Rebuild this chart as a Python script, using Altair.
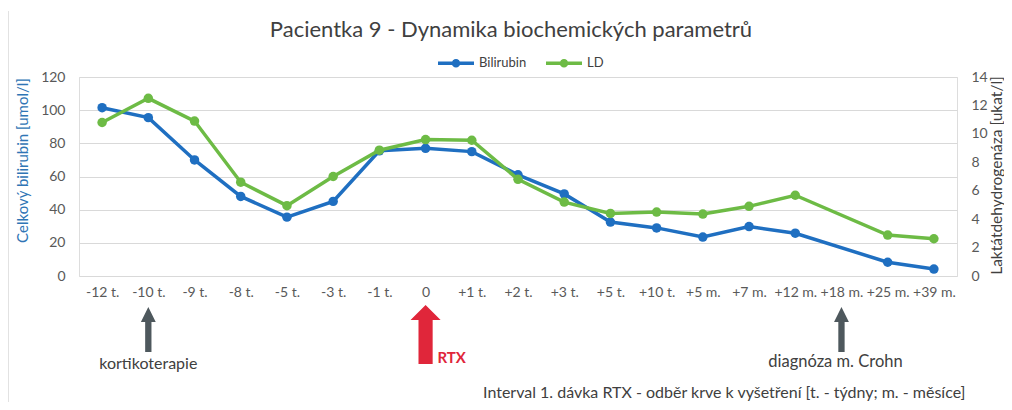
import altair as alt
import pandas as pd

categories = ["-12 t.", "-10 t.", "-9 t.", "-8 t.", "-5 t.", "-3 t.", "-1 t.", "0",
              "+1 t.", "+2 t.", "+3 t.", "+5 t.", "+10 t.", "+5 m.", "+7 m.",
              "+12 m.", "+18 m.", "+25 m.", "+39 m."]
bilirubin = [101.5, 95.5, 70, 48, 35.5, 45, 75.5, 77, 75, 61, 49.5, 32.5, 29, 23.5,
             29.8, 25.8, None, 8.3, 4.2]
ld = [10.8, 12.5, 10.9, 6.6, 4.95, 7.0, 8.85, 9.6, 9.55, 6.8, 5.2, 4.4, 4.5, 4.36,
      4.9, 5.68, None, 2.88, 2.62]
series_names = ["Bilirubin", "LD"]
series_colors = ["#1F6FC1", "#6DBB45"]

arrow_cats = ["-10 t.", "0", "+18 m."]
arrow_kinds = ["gray", "red", "gray"]
note_cats = ["-10 t.", "0", "+18 m."]
note_texts = ["kortikoterapie", "RTX", "diagnóza m. Crohn"]

title_text = "Pacientka 9 - Dynamika biochemických parametrů"
left_title = "Celkový bilirubin [umol/l]"
right_title = "Laktátdehydrogenáza [ukat/l]"
x_title = "Interval 1. dávka RTX - odběr krve k vyšetření [t. - týdny; m. - měsíce]"

FONT = "Lato"
W, H = 878, 199

rows = []
for c, b, l in zip(categories, bilirubin, ld):
    if b is not None:
        rows.append({"cat": c, "series": "Bilirubin", "value": b})
    if l is not None:
        rows.append({"cat": c, "series": "LD", "value": l})
df = pd.DataFrame(rows)

arrows = pd.DataFrame({"cat": arrow_cats, "kind": arrow_kinds})
notes = pd.DataFrame({"cat": note_cats, "label": note_texts})

xenc = alt.X("cat:N", sort=categories,
             scale=alt.Scale(type="point", domain=categories, padding=0.5),
             axis=alt.Axis(title=x_title, labelAngle=0, ticks=False, domain=False,
                           labelPadding=9, labelFontSize=14, labelColor="#595959",
                           labelFont=FONT, titleFont=FONT, titleFontSize=16,
                           titleFontWeight="normal", titleColor="#404040",
                           titleX=886, titleY=116, titleAlign="right",
                           titleBaseline="middle", grid=False))

color = alt.Color("series:N",
                  scale=alt.Scale(domain=series_names, range=series_colors),
                  legend=alt.Legend(
                      title=None, orient="none", direction="horizontal",
                      legendX=357, legendY=-34,
                      symbolType="M-1,0L1,0M0.14,0A0.14,0.14,0,1,1,-0.14,0A0.14,0.14,0,1,1,0.14,0",
                      symbolSize=1296, symbolStrokeWidth=3.5,
                      labelFont=FONT, labelFontSize=13, labelColor="#404040",
                      labelOffset=3, columnPadding=12))

bil = alt.Chart(df).transform_filter(alt.datum.series == "Bilirubin").mark_line(
    strokeWidth=3.5,
    point=alt.OverlayMarkDef(filled=True, size=90, opacity=1)
).encode(
    x=xenc,
    y=alt.Y("value:Q", scale=alt.Scale(domain=[0, 120], nice=False),
            axis=alt.Axis(values=[0, 20, 40, 60, 80, 100, 120], title=left_title,
                          orient="left", ticks=False, domain=False, labelPadding=14,
                          labelFontSize=14, labelColor="#595959", labelFont=FONT,
                          gridColor="#D9D9D9", gridWidth=1,
                          titleFont=FONT, titleFontSize=15, titleFontWeight="normal",
                          titleColor="#2F75B5", titleAngle=270, titleX=-57, titleY=83,
                          titleAlign="center", titleBaseline="middle")),
    color=color,
)

ldc = alt.Chart(df).transform_filter(alt.datum.series == "LD").mark_line(
    strokeWidth=3.5,
    point=alt.OverlayMarkDef(filled=True, size=90, opacity=1)
).encode(
    x=xenc,
    y=alt.Y("value:Q", scale=alt.Scale(domain=[0, 14], nice=False),
            axis=alt.Axis(values=[0, 2, 4, 6, 8, 10, 12, 14], title=right_title,
                          orient="right", ticks=False, domain=False, labelPadding=14,
                          grid=False, labelFontSize=14, labelColor="#595959",
                          labelFont=FONT,
                          titleFont=FONT, titleFontSize=15.5, titleFontWeight="normal",
                          titleColor="#404040", titleAngle=270, titleX=39, titleY=98,
                          titleAlign="center", titleBaseline="middle")),
    color=color,
)

gray_path = "M0,-1L0.33,-0.33L0.14,-0.33L0.14,1L-0.14,1L-0.14,-0.33L-0.33,-0.33Z"
red_path = "M0,-1L0.51,-0.49L0.24,-0.49L0.24,1L-0.24,1L-0.24,-0.49L-0.51,-0.49Z"

gray_arrows = alt.Chart(arrows).transform_filter(alt.datum.kind == "gray").mark_point(
    shape=gray_path, filled=True, size=2025, color="#4E585D", opacity=1, strokeWidth=0
).encode(x=alt.X("cat:N", sort=categories), y=alt.value(252.5))

red_arrows = alt.Chart(arrows).transform_filter(alt.datum.kind == "red").mark_point(
    shape=red_path, filled=True, size=3481, color="#E0263A", opacity=1, strokeWidth=0
).encode(x=alt.X("cat:N", sort=categories), y=alt.value(257.5))

note1 = alt.Chart(notes).transform_filter(alt.datum.label == "kortikoterapie").mark_text(
    font=FONT, fontSize=16, color="#404040", align="center", baseline="middle"
).encode(x=alt.X("cat:N", sort=categories), y=alt.value(287), text="label:N")

note2 = alt.Chart(notes).transform_filter(alt.datum.label == "RTX").mark_text(
    font=FONT, fontSize=15, fontWeight="bold", color="#E0263A", align="center",
    baseline="middle", dx=26
).encode(x=alt.X("cat:N", sort=categories), y=alt.value(281), text="label:N")

note3 = alt.Chart(notes).transform_filter(alt.datum.label == "diagnóza m. Crohn").mark_text(
    font=FONT, fontSize=16.5, color="#404040", align="center", baseline="middle", dx=-6
).encode(x=alt.X("cat:N", sort=categories), y=alt.value(285), text="label:N")

title_mark = alt.Chart(pd.DataFrame({"t": [title_text]})).mark_text(
    font=FONT, fontSize=22, color="#404040", align="center", baseline="middle"
).encode(x=alt.value(432), y=alt.value(-47), text="t:N")

frame = alt.Chart(pd.DataFrame({"k": [0]})).mark_rule(
    color="#D9D9D9", strokeWidth=1.5
).encode(x=alt.value(-71), y=alt.value(-66), y2=alt.value(340))

chart = alt.layer(
    frame, bil, ldc, gray_arrows, red_arrows, note1, note2, note3, title_mark
).resolve_scale(y="independent").properties(
    width=W, height=H,
    autosize=alt.AutoSizeParams(type="none"),
    padding={"left": 71, "top": 69, "right": 47, "bottom": 126},
).configure_view(stroke=None).configure(background="white")

chart.save("out.html", embed_options={"renderer": "svg", "actions": False})
